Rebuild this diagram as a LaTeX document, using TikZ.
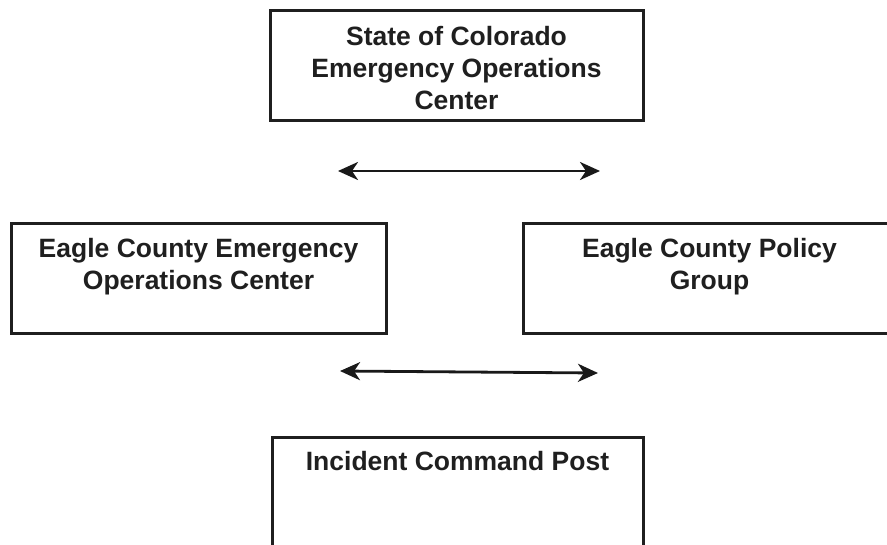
\documentclass[tikz,border=0pt]{standalone}
\usepackage{fontspec}
\setmainfont{Liberation Sans}
\usetikzlibrary{arrows.meta}
\begin{document}
\begin{tikzpicture}[x=1pt,y=-1pt,
  box/.style={draw=black!88, line width=3pt, rectangle, inner sep=0pt},
  lbl/.style={anchor=north, align=center, inner sep=0pt,
    font=\fontsize{26.5}{32}\selectfont\bfseries, text=black!88},
  biarrow/.style={line width=2.8pt, draw=black!90,
    {Stealth[length=20pt,width=18pt,inset=6pt]}-{Stealth[length=20pt,width=18pt,inset=6pt]}}]
\clip (0,0) rectangle (887,544);
\fill[white] (0,0) rectangle (887,544);
% boxes (centre, width, height)
\node[box, minimum width=373pt, minimum height=110pt] (state) at (456.5,65) {};
\node[box, minimum width=375pt, minimum height=110pt] (eoc) at (198.5,278) {};
\node[box, minimum width=373pt, minimum height=110pt] (policy) at (709.5,278) {};
\node[box, minimum width=371pt, minimum height=114pt] (icp) at (457.5,494) {};
% labels
\node[lbl] (statetext) at ([yshift=-18pt]state.north) {State of Colorado\\Emergency Operations\\Center};
\node[lbl] (eoctext) at ([yshift=-17pt]eoc.north) {Eagle County Emergency\\Operations Center};
\node[lbl] (policytext) at ([yshift=-17pt]policy.north) {Eagle County Policy\\Group};
\node[lbl] (icptext) at ([yshift=-16pt]icp.north) {Incident Command Post};
% arrows
\coordinate (a1l) at (338,171);
\coordinate (a1r) at (600,171);
\coordinate (a2l) at (340,371);
\coordinate (a2r) at (598,373);
\draw[biarrow] (a1l) -- (a1r);
\draw[biarrow] (a2l) -- (a2r);
\end{tikzpicture}
\end{document}
